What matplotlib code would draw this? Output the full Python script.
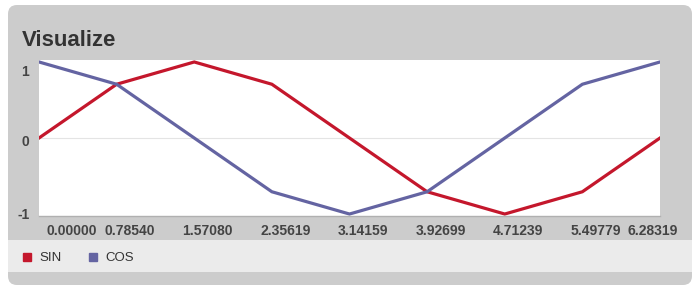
#Sin / cos sample points, drawn as a dashboard style panel

import numpy as np
import matplotlib
matplotlib.use("Agg")
import matplotlib.pyplot as plt
import matplotlib.transforms as mtransforms
from matplotlib.patches import FancyBboxPatch, Rectangle
from matplotlib.lines import Line2D

plt.rcParams['font.family'] = ['Liberation Sans', 'DejaVu Sans']

#data:
x_labels = ["0.00000", "0.78540", "1.57080", "2.35619", "3.14159",
            "3.92699", "4.71239", "5.49779", "6.28319"]
sin_vals = [0.0, 0.7071, 1.0, 0.7071, 0.0, -0.7071, -1.0, -0.7071, 0.0]
cos_vals = [1.0, 0.7071, 0.0, -0.7071, -1.0, -0.7071, 0.0, 0.7071, 1.0]
y_ticks = [1, 0, -1]

RED = "#c4172c"
BLUE = "#6464a2"
W, H = 700, 293

fig = plt.figure(figsize=(W / 100, H / 100), dpi=100)
fig.patch.set_facecolor("white")
ident = mtransforms.IdentityTransform()

#panel background (pixel coords, y from top)
fig.patches.append(FancyBboxPatch((8, H - 285), 684, 280,
                                  boxstyle="round,pad=0,rounding_size=9",
                                  transform=ident, facecolor="#cccccc",
                                  edgecolor="none", zorder=-2))
fig.patches.append(Rectangle((8, H - 272), 684, 32, transform=ident,
                             facecolor="#ebebeb", edgecolor="none", zorder=-1))

fig.text(22 / W, 1 - 45.5 / H, "Visualize", fontsize=16, fontweight="bold",
         color="#333333", va="baseline", ha="left")

ax = fig.add_axes([39 / W, 1 - 216 / H, 621 / W, 156 / H])
ax.set_facecolor("white")
x = np.arange(len(x_labels))
ax.plot(x, sin_vals, color=RED, lw=2.3, solid_joinstyle="miter")
ax.plot(x, cos_vals, color=BLUE, lw=2.3, solid_joinstyle="miter")
ax.axhline(0, color="#e4e4e4", lw=0.8, zorder=0)

ax.set_xlim(0, len(x_labels) - 1)
ax.set_ylim(-1.026, 1.026)
for s in ["top", "right", "left"]:
    ax.spines[s].set_visible(False)
ax.spines["bottom"].set_color("#b0b0b0")
ax.spines["bottom"].set_linewidth(1)

ax.set_xticks(x, x_labels)
ax.set_yticks(y_ticks, [str(v) for v in y_ticks])
ax.tick_params(length=0, labelsize=10, labelcolor="#444444")
ax.tick_params(axis="y", pad=7)
ax.tick_params(axis="x", pad=6)
for lab in ax.get_xticklabels() + ax.get_yticklabels():
    lab.set_fontweight("bold")

#label nudges (pixels)
x_shift = [33] + [13.5] * (len(x_labels) - 2) + [-7]
for lab, dx in zip(ax.get_xticklabels(), x_shift):
    lab.set_transform(lab.get_transform() +
                      mtransforms.ScaledTranslation(dx / 100, 0, fig.dpi_scale_trans))
for lab, dy in zip(ax.get_yticklabels(), [-9, -3, 1]):
    lab.set_transform(lab.get_transform() +
                      mtransforms.ScaledTranslation(0, dy / 100, fig.dpi_scale_trans))

#legend
handles = [Line2D([], [], marker="s", ls="none", ms=5.5, color=RED, label="SIN"),
           Line2D([], [], marker="s", ls="none", ms=5.5, color=BLUE, label="COS")]
leg = fig.legend(handles=handles, loc="center left", ncol=2, frameon=False,
                 bbox_to_anchor=(22 / W, 1 - 258 / H), fontsize=9.5,
                 handlelength=0.8, handletextpad=0.5, columnspacing=2.0,
                 borderpad=0, borderaxespad=0)
for t in leg.get_texts():
    t.set_color("#333333")

fig.savefig("out.png", dpi=100)
